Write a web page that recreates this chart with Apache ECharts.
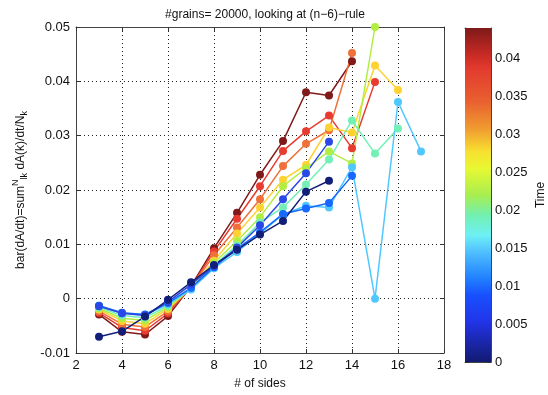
<!DOCTYPE html>
<html>
<head>
<meta charset="utf-8">
<style>
  html, body { margin: 0; padding: 0; background: #fff; }
  #chart { width: 548px; height: 395px; }
</style>
<script src="https://cdn.jsdelivr.net/npm/echarts@6/dist/echarts.min.js"></script>
</head>
<body>
<div id="chart"></div>
<script>
// Mean area growth rate per number of sides, one curve per time snapshot.
const firstSide = 3;
const xTicks = [2, 4, 6, 8, 10, 12, 14, 16, 18];
const yTicks = [-0.01, 0, 0.01, 0.02, 0.03, 0.04, 0.05];
const timeTicks = [0, 0.005, 0.01, 0.015, 0.02, 0.025, 0.03, 0.035, 0.04];
const timeMax = 0.044;

// Snapshot times (colour scale values)
const times = [0, 0.006, 0.010, 0.0145, 0.019, 0.0245, 0.029, 0.0335, 0.038, 0.044];

// Values for n = 3, 4, 5, ... for each snapshot
const rateT0    = [-0.0070, -0.0060, -0.0033, -0.0002, 0.0030, 0.0062, 0.0090, 0.0118, 0.0143, 0.0197, 0.0217];
const rateT1    = [-0.0014, -0.0027, -0.0031, -0.0006, 0.0026, 0.0060, 0.0094, 0.0135, 0.0183, 0.0231, 0.0289];
const rateT2    = [-0.0013, -0.0026, -0.0029, -0.0008, 0.0020, 0.0058, 0.0092, 0.0122, 0.0156, 0.0166, 0.0176, 0.0226];
const rateT3    = [-0.0013, -0.0027, -0.0030, -0.0010, 0.0017, 0.0056, 0.0086, 0.0120, 0.0155, 0.0171, 0.0168, 0.0242, 0.0000, 0.0362, 0.0271];
const rateT4    = [-0.0016, -0.0031, -0.0035, -0.0013, 0.0018, 0.0062, 0.0098, 0.0140, 0.0168, 0.0210, 0.0256, 0.0328, 0.0267, 0.0313];
const rateT5    = [-0.0018, -0.0036, -0.0040, -0.0016, 0.0019, 0.0066, 0.0106, 0.0150, 0.0207, 0.0240, 0.0271, 0.0249, 0.0500];
const rateT6    = [-0.0020, -0.0041, -0.0046, -0.0019, 0.0020, 0.0070, 0.0120, 0.0168, 0.0219, 0.0246, 0.0315, 0.0306, 0.0429, 0.0384];
const rateT7    = [-0.0023, -0.0047, -0.0052, -0.0023, 0.0021, 0.0080, 0.0131, 0.0183, 0.0244, 0.0285, 0.0310, 0.0452];
const rateT8    = [-0.0026, -0.0053, -0.0059, -0.0027, 0.0022, 0.0087, 0.0147, 0.0207, 0.0272, 0.0308, 0.0337, 0.0277, 0.0399];
const rateT9    = [-0.0029, -0.0061, -0.0066, -0.0032, 0.0023, 0.0093, 0.0158, 0.0228, 0.0290, 0.0380, 0.0374, 0.0437];

const rates = [rateT0, rateT1, rateT2, rateT3, rateT4, rateT5, rateT6, rateT7, rateT8, rateT9];
const lineColors = ['#121f78', '#2a48e6', '#1668ff', '#50c8ff', '#72f0b6', '#b2ee42', '#ffd232', '#f0703a', '#e83c30', '#801a1a'];

// jet-like colour ramp for the colour bar, top (high) to bottom (low)
const barStops = [
  [0.00, '#7e1a1a'], [0.08, '#c82a24'], [0.12, '#e23a2e'], [0.22, '#e96030'],
  [0.30, '#f09a30'], [0.37, '#f8e030'], [0.42, '#e8f832'], [0.50, '#a8ee50'],
  [0.56, '#72f0b0'], [0.62, '#6ef0f4'], [0.67, '#50c0ff'], [0.75, '#2080ff'],
  [0.80, '#1850ff'], [0.88, '#2234e8'], [1.00, '#121a70']
];

const font = '"Liberation Sans", Arial, Helvetica, sans-serif';
const chart = echarts.init(document.getElementById('chart'), null, { renderer: 'canvas' });

const series = [];
for (let i = rates.length - 1; i >= 0; i--) {
  series.push({
    type: 'line',
    name: 't=' + times[i],
    xAxisIndex: 0, yAxisIndex: 0,
    data: rates[i].map((v, k) => [firstSide + k, v]),
    symbol: 'circle',
    symbolSize: 8,
    showSymbol: true,
    lineStyle: { color: lineColors[i], width: 1.5 },
    itemStyle: { color: lineColors[i] },
    z: 3,
    animation: false
  });
}
series.push({
  type: 'bar',
  xAxisIndex: 2, yAxisIndex: 2,
  data: [timeMax],
  barWidth: '100%',
  itemStyle: {
    color: new echarts.graphic.LinearGradient(0, 0, 0, 1,
      barStops.map(s => ({ offset: s[0], color: s[1] })))
  },
  animation: false
});

const dotted = { show: true, lineStyle: { color: '#222', type: [1, 3], width: 1 } };
const tickIn = { show: true, inside: true, length: 4, lineStyle: { color: '#333' } };
const axisLine = { show: true, onZero: false, lineStyle: { color: '#444', width: 1 } };
const labelStyle = { color: '#111', fontSize: 13, fontFamily: font };

chart.setOption({
  backgroundColor: '#fff',
  animation: false,
  title: {
    text: '#grains= 20000, looking at (n\u22126)\u2212rule',
    left: 260, top: 4, textAlign: 'center',
    textStyle: { fontSize: 12, fontWeight: 'normal', color: '#111', fontFamily: font }
  },
  grid: [
    { left: 76, right: 104, top: 27, bottom: 33, show: false },
    { left: 465, width: 27, top: 28, bottom: 33, show: false }
  ],
  xAxis: [
    {
      gridIndex: 0, type: 'value', min: xTicks[0], max: xTicks[xTicks.length - 1], interval: 2,
      position: 'bottom',
      axisLine, axisTick: tickIn, splitLine: dotted,
      axisLabel: { ...labelStyle, margin: 6 },
      name: '# of sides', nameLocation: 'middle', nameGap: 25,
      nameTextStyle: { ...labelStyle, fontSize: 12 }
    },
    {
      gridIndex: 0, type: 'value', min: xTicks[0], max: xTicks[xTicks.length - 1], interval: 2,
      position: 'top', axisLine, axisTick: tickIn, axisLabel: { show: false }, splitLine: { show: false }
    },
    {
      gridIndex: 1, type: 'category', data: ['Time'], position: 'bottom',
      axisLine, axisTick: { show: false }, axisLabel: { show: false }, splitLine: { show: false }
    },
    {
      gridIndex: 1, type: 'category', data: ['Time'], position: 'top',
      axisLine, axisTick: { show: false }, axisLabel: { show: false }, splitLine: { show: false }
    }
  ],
  yAxis: [
    {
      gridIndex: 0, type: 'value', min: yTicks[0], max: yTicks[yTicks.length - 1], interval: 0.01,
      position: 'left',
      axisLine, axisTick: tickIn, splitLine: dotted,
      axisLabel: { ...labelStyle, margin: 6 },
      name: 'bar(dA/dt)=sum{sup|N}{sub|lk} dA(k)/dt/N{sub|k}',
      nameLocation: 'middle', nameRotate: 90, nameGap: 50,
      nameTextStyle: {
        ...labelStyle, fontSize: 12, lineHeight: 18, verticalAlign: 'middle',
        rich: {
          sup: { fontSize: 9, fontFamily: font, color: '#111', verticalAlign: 'top', lineHeight: 18 },
          sub: { fontSize: 9, fontFamily: font, color: '#111', verticalAlign: 'bottom', lineHeight: 18 }
        }
      }
    },
    {
      gridIndex: 0, type: 'value', min: yTicks[0], max: yTicks[yTicks.length - 1], interval: 0.01,
      position: 'right', axisLine, axisTick: tickIn, axisLabel: { show: false }, splitLine: { show: false }
    },
    {
      gridIndex: 1, type: 'value', min: 0, max: timeMax, interval: 0.005,
      position: 'right',
      axisLine, axisTick: tickIn, splitLine: { show: false },
      axisLabel: {
        ...labelStyle, margin: 4,
        formatter: v => (v > 0.0405 ? '' : String(+v.toFixed(3)))
      },
      name: 'Time', nameLocation: 'middle', nameRotate: 90, nameGap: 44,
      nameTextStyle: { ...labelStyle, fontSize: 12 }
    },
    {
      gridIndex: 1, type: 'value', min: 0, max: timeMax, interval: 0.005,
      position: 'left', axisLine, axisTick: tickIn, axisLabel: { show: false }, splitLine: { show: false }
    }
  ],
  series
});
</script>
</body>
</html>
